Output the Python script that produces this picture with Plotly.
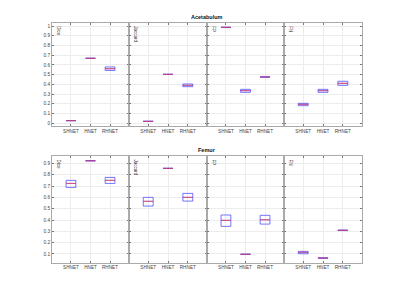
import plotly.graph_objects as go

methods = ["SHNET", "HNET", "RHNET"]
metrics = ["Dice", "Jaccard", "FP", "FN"]
rows = ["Acetabulum", "Femur"]

# Acetabulum: per metric, per method (q1, median, q3)
ace_q1 = [[0.027, 0.668, 0.543], [0.020, 0.503, 0.376], [0.986, 0.318, 0.474], [0.181, 0.318, 0.390]]
ace_med = [[0.027, 0.668, 0.561], [0.020, 0.503, 0.390], [0.986, 0.335, 0.476], [0.195, 0.335, 0.411]]
ace_q3 = [[0.027, 0.668, 0.579], [0.020, 0.503, 0.404], [0.986, 0.349, 0.478], [0.205, 0.349, 0.432]]

# Femur
fem_q1 = [[0.688, 0.923, 0.723], [0.523, 0.856, 0.567], [0.344, 0.095, 0.364], [0.102, 0.062, 0.307]]
fem_med = [[0.723, 0.923, 0.750], [0.565, 0.856, 0.600], [0.397, 0.097, 0.402], [0.115, 0.064, 0.309]]
fem_q3 = [[0.750, 0.923, 0.776], [0.600, 0.856, 0.635], [0.444, 0.099, 0.441], [0.123, 0.066, 0.311]]

y_ticks_top = [0, 0.1, 0.2, 0.3, 0.4, 0.5, 0.6, 0.7, 0.8, 0.9, 1]
y_ticks_bot = [0.1, 0.2, 0.3, 0.4, 0.5, 0.6, 0.7, 0.8, 0.9]

W, H = 400, 298
xcols = [52, 129, 207, 284, 362]
row_px = [(22.7, 126.0), (156.0, 262.7)]
yranges = [[-0.028, 1.034], [0.023, 0.965]]
FONT = "Liberation Sans"
BOXW = 0.5

fig = go.Figure()
data = [(ace_q1, ace_med, ace_q3), (fem_q1, fem_med, fem_q3)]
pos = [1, 2, 3]

layout = {}
annotations = []
for r in range(2):
    q1s, meds, q3s = data[r]
    for c in range(4):
        idx = r * 4 + c + 1
        xa = "x" if idx == 1 else f"x{idx}"
        ya = "y" if idx == 1 else f"y{idx}"
        fig.add_trace(go.Box(
            x=pos, q1=q1s[c], median=meds[c], q3=q3s[c],
            lowerfence=q1s[c], upperfence=q3s[c],
            width=BOXW, whiskerwidth=0,
            line=dict(color="rgba(60,60,255,0.7)", width=1),
            fillcolor="rgba(0,0,0,0)", boxpoints=False,
            hoverinfo="skip", showlegend=False, xaxis=xa, yaxis=ya))
        mx, my = [], []
        for p, m in zip(pos, meds[c]):
            mx += [p - BOXW / 2, p + BOXW / 2, None]
            my += [m, m, None]
        fig.add_trace(go.Scatter(
            x=mx, y=my, mode="lines",
            line=dict(color="rgba(255,60,60,0.7)", width=1),
            hoverinfo="skip", showlegend=False, xaxis=xa, yaxis=ya))
        top, bot = row_px[r]
        xd = [xcols[c] / W, xcols[c + 1] / W]
        yd = [1 - bot / H, 1 - top / H]
        key = "" if idx == 1 else str(idx)
        layout["xaxis" + key] = dict(
            domain=xd, range=[0.03, 3.97], anchor=ya, automargin=False,
            tickmode="array", tickvals=pos, ticktext=methods,
            ticks="inside", ticklen=2, tickcolor="#777",
            showline=True, linecolor="#aaa", linewidth=1, mirror="ticks",
            showgrid=True, gridcolor="#ececec", gridwidth=1, zeroline=False,
            tickfont=dict(family=FONT, size=4.7, color="#444"))
        layout["yaxis" + key] = dict(
            domain=yd, range=yranges[r], anchor=xa, automargin=False,
            tickmode="array",
            tickvals=y_ticks_top if r == 0 else y_ticks_bot,
            ticks="inside", ticklen=2, tickcolor="#777",
            showticklabels=(c == 0),
            showline=True, linecolor="#aaa", linewidth=1, mirror="ticks",
            showgrid=True, gridcolor="#ececec", gridwidth=1, zeroline=False,
            tickfont=dict(family=FONT, size=4.7, color="#444"))
        annotations.append(dict(
            text=metrics[c], x=(xcols[c] + 2) / W, y=1 - (top + 1) / H,
            xref="paper", yref="paper", xanchor="left", yanchor="top",
            textangle=90, showarrow=False,
            font=dict(family=FONT, size=4.5, color="#333")))
    annotations.append(dict(
        text="<b>" + rows[r] + "</b>", x=(xcols[0] + xcols[-1]) / 2 / W,
        y=1 - (row_px[r][0] - 1) / H, xref="paper", yref="paper",
        xanchor="center", yanchor="bottom", showarrow=False,
        font=dict(family=FONT, size=5.5, color="#111")))

fig.update_layout(**layout)
fig.update_layout(
    template="none",
    width=W, height=H, margin=dict(l=0, r=0, t=0, b=0),
    paper_bgcolor="white", plot_bgcolor="white",
    annotations=annotations, showlegend=False)

fig.write_html("out.html", config={"displayModeBar": False},
               post_script="document.body.style.margin='0px';")
